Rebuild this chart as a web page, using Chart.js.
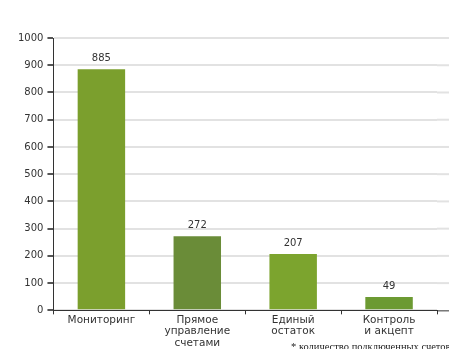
<!DOCTYPE html>
<html>
<head>
<meta charset="utf-8">
<script src="https://cdn.jsdelivr.net/npm/chart.js@4/dist/chart.umd.min.js"></script>
<style>
  html, body { margin: 0; padding: 0; background: #fff; overflow: hidden; }
  #wrap { position: relative; width: 449px; height: 349px; overflow: hidden; }
  #note { position: absolute; left: 291px; top: 341px; font: 10.5px "Liberation Serif", serif; color: #222; white-space: nowrap; }
</style>
</head>
<body>
<div id="wrap">
  <canvas id="bar-chart" width="449" height="349"></canvas>
  <div id="note">* количество подключенных счетов</div>
</div>
<script>
let categories = [["Мониторинг"], ["Прямое", "управление", "счетами"], ["Единый", "остаток"], ["Контроль", "и акцепт"]];
let counts = [885, 272, 207, 49];
let colors = ["#7b9f2d", "#6a8c38", "#7ca42e", "#6c9a32"];

let ctx = document.getElementById("bar-chart").getContext("2d");

// value above each bar
const valueLabels = {
  id: "valueLabels",
  afterDatasetsDraw(chart) {
    const c = chart.ctx;
    const meta = chart.getDatasetMeta(0);
    c.save();
    c.font = "10px 'DejaVu Sans', sans-serif";
    c.fillStyle = "#333";
    c.textAlign = "center";
    c.textBaseline = "bottom";
    meta.data.forEach((bar, i) => {
      c.fillText(counts[i], bar.x, bar.y - 6);
    });
    c.restore();
  },
};

// grid lines run on to the edge of the picture
const gridTail = {
  id: "gridTail",
  beforeDatasetsDraw(chart) {
    const c = chart.ctx;
    const y = chart.scales.y;
    c.save();
    c.strokeStyle = "#e2e2e2";
    c.lineWidth = 2;
    y.ticks.forEach((t) => {
      if (t.value === 0) return;
      const py = y.getPixelForValue(t.value);
      c.beginPath();
      c.moveTo(chart.chartArea.right, py);
      c.lineTo(chart.width, py);
      c.stroke();
    });
    c.beginPath();
    c.strokeStyle = "#333";
    c.lineWidth = 1;
    const by = y.getPixelForValue(0) + 0.5;
    c.moveTo(chart.chartArea.right, by);
    c.lineTo(chart.width, by);
    c.stroke();
    c.restore();
  },
};

new Chart(ctx, {
  type: "bar",
  data: {
    labels: categories,
    datasets: [
      {
        data: counts,
        backgroundColor: colors,
        barPercentage: 0.55,
        categoryPercentage: 0.9,
      },
    ],
  },
  options: {
    responsive: false,
    animation: false,
    layout: { padding: { left: 14, right: 12, top: 38, bottom: 0 } },
    plugins: {
      legend: { display: false },
      tooltip: { enabled: false },
    },
    scales: {
      x: {
        grid: { drawOnChartArea: false, tickLength: 4, tickColor: "#333" },
        border: { color: "#333" },
        ticks: {
          color: "#333",
          padding: 0,
          maxRotation: 0,
          font: { family: "'DejaVu Sans', sans-serif", size: 10.5, lineHeight: 1.1 },
        },
      },
      y: {
        min: 0,
        max: 1000,
        ticks: {
          stepSize: 100,
          color: "#333",
          padding: 4,
          font: { family: "'DejaVu Sans', sans-serif", size: 10 },
          callback: (v) => String(v),
        },
        grid: { color: "#e2e2e2", lineWidth: 2, tickLength: 6, tickColor: "#555" },
        border: { color: "#333" },
      },
    },
  },
  plugins: [valueLabels, gridTail],
});
</script>
</body>
</html>
